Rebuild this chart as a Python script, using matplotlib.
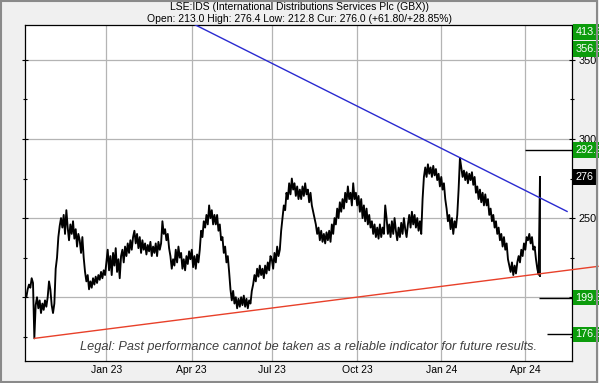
import numpy as np
import matplotlib.pyplot as plt
from matplotlib.patches import Rectangle
import matplotlib.transforms as mtransforms

plt.rcParams['font.family'] = ['Liberation Sans', 'DejaVu Sans']

# ---- daily closes (GBX), one list per month, Oct 2022 .. Apr 2024 ----
oct22 = [203, 200, 205, 208, 206, 212, 209, 174, 195, 200, 193, 198, 190, 196, 192, 198, 194, 200, 210]
nov22 = [205, 195, 190, 196, 218, 225, 238, 245, 250, 244, 252, 240, 255, 244, 236, 246, 240, 248, 237, 243, 232, 240]
dec22 = [236, 228, 238, 225, 216, 210, 214, 205, 210, 206, 212, 208, 213, 209, 214, 211, 216, 212, 217, 214]
jan23 = [222, 230, 217, 226, 214, 228, 220, 231, 216, 224, 212, 226, 230, 222, 232, 226, 234, 228, 236, 230, 238]
feb23 = [242, 234, 240, 231, 238, 228, 236, 230, 234, 227, 233, 229, 235, 226, 232, 228, 234, 226, 235, 230]
mar23 = [234, 248, 240, 243, 236, 240, 231, 226, 218, 224, 220, 230, 222, 232, 225, 228, 218, 224, 217, 226, 221, 229, 224]
apr23 = [230, 219, 226, 218, 227, 222, 230, 242, 238, 248, 244, 252, 246, 258, 250, 255, 246, 252]
may23 = [246, 252, 242, 246, 236, 238, 228, 232, 222, 226, 216, 205, 198, 204, 196, 200, 193, 199, 194, 200]
jun23 = [195, 201, 194, 199, 193, 198, 196, 204, 208, 214, 210, 218, 213, 220, 214, 218, 212, 220, 215, 222, 217, 226]
jul23 = [224, 218, 228, 222, 232, 226, 230, 242, 250, 258, 255, 266, 262, 272, 265, 275, 268, 272, 264, 270, 262]
aug23 = [268, 262, 270, 264, 272, 265, 268, 260, 266, 258, 254, 250, 246, 240, 244, 236, 242, 235, 240, 234, 241, 236]
sep23 = [242, 235, 246, 240, 250, 246, 256, 250, 260, 254, 262, 256, 266, 260, 270, 262, 266, 258, 272, 262, 266]
oct23 = [258, 264, 254, 262, 250, 258, 248, 256, 246, 252, 244, 248, 240, 246, 238, 244, 237, 246, 238, 244, 240, 258]
nov23 = [250, 240, 246, 238, 248, 240, 250, 242, 236, 244, 238, 247, 240, 250, 243, 238, 246, 252, 244, 254, 246, 252]
dec23 = [244, 250, 242, 248, 240, 262, 276, 282, 276, 284, 278, 282, 276, 283, 277, 281, 274, 278, 270]
jan24 = [276, 268, 272, 262, 256, 248, 252, 243, 250, 240, 248, 244, 252, 268, 288, 282, 276, 280, 274, 279, 272, 278]
feb24 = [274, 279, 271, 276, 266, 270, 262, 268, 260, 266, 258, 265, 258, 262, 252, 256, 248, 252, 244, 248, 240]
mar24 = [244, 236, 240, 232, 238, 230, 234, 224, 220, 216, 222, 214, 220, 215, 222, 226, 222, 230, 226, 234]
apr24 = [230, 238, 236, 240, 234, 238, 230, 232, 224, 218, 214.2, 276.0]

months = [oct22, nov22, dec22, jan23, feb23, mar23, apr23, may23, jun23, jul23,
          aug23, sep23, oct23, nov23, dec23, jan24, feb24, mar24, apr24]
month_labels = ['Oct 22', 'Nov 22', 'Dec 22', 'Jan 23', 'Feb 23', 'Mar 23', 'Apr 23',
                'May 23', 'Jun 23', 'Jul 23', 'Aug 23', 'Sep 23', 'Oct 23', 'Nov 23',
                'Dec 23', 'Jan 24', 'Feb 24', 'Mar 24', 'Apr 24']
tick_labels = ['Jan 23', 'Apr 23', 'Jul 23', 'Oct 23', 'Jan 24', 'Apr 24']

# last session bar
last_low, last_high = 212.8, 276.4

# trend lines (trading-day index, price)
red_x, red_y = [7, 429.5], [174.0, 219.5]
blue_x, blue_y = [120, 406.3], [375.3, 254.2]

# target levels on the right
levels = [413.6, 356.9, 292.9, 199.8, 176.5]
level_text = ['413.6', '356.9', '292.9', '199.8', '176.5']
level_line_from = [None, None, 375, 385, 391.5]
current = 276.0

close = np.concatenate([np.array(m, dtype=float) for m in months])
x = np.arange(len(close))
starts = np.cumsum([0] + [len(m) for m in months])[:-1]
tick_pos = [starts[month_labels.index(t)] for t in tick_labels]

fig = plt.figure(figsize=(5.99, 3.83), dpi=100, facecolor='#f0f0f0')
ax = fig.add_axes([25 / 599, 1 - 361 / 383, 547 / 599, 336 / 383])
ax.set_facecolor('white')

ymin, ymax = 159.7, 372.0
ax.set_xlim(0, 410)
ax.set_ylim(ymin, ymax)

# grid
ax.set_xticks(tick_pos)
ax.set_xticklabels(tick_labels, fontsize=7.5)
ax.set_yticks([200, 250, 300, 350])
ax.set_yticklabels(['', '250', '300', '350'])
ax.set_yticks([175, 225, 275, 325], minor=True)
ax.grid(True, which='major', color='#b4b4b4', lw=0.9)
ax.tick_params(axis='x', length=0, pad=3)
ax.tick_params(axis='y', which='major', left=True, right=True, labelleft=False,
               labelright=True, direction='inout', length=5, width=0.8,
               labelsize=7.8, pad=2)
ax.tick_params(axis='y', which='minor', left=True, right=True, direction='inout',
               length=3, width=0.8)
for s in ax.spines.values():
    s.set_color('black')
    s.set_linewidth(0.9)

# price
ax.plot(x, close, color='black', lw=1.35, zorder=3)
ax.vlines(x[-1], last_low, last_high, color='black', lw=1.3, zorder=3)

# trend lines
ax.plot(red_x, red_y, color='#e8402a', lw=1.0, clip_on=False, zorder=4)
ax.plot(blue_x, blue_y, color='#2a2ad0', lw=1.0, zorder=4)

# target levels
trans = mtransforms.blended_transform_factory(ax.transAxes, ax.transData)
for lv, txt, x0 in zip(levels, level_text, level_line_from):
    yv = min(lv, ymax - 4.5)
    if x0 is not None:
        ax.hlines(lv, x0, 410, color='black', lw=1.0, zorder=4)
    ax.text(1.006, yv, txt, transform=trans, color='white', fontsize=7.8,
            va='center', ha='left', clip_on=False, zorder=6,
            bbox=dict(boxstyle='square,pad=0.25', fc='#0c9c0c', ec='none'))
ax.text(1.006, current, '276', transform=trans, color='white', fontsize=7.8,
        va='center', ha='left', clip_on=False, zorder=6,
        bbox=dict(boxstyle='square,pad=0.25', fc='black', ec='none'))

# titles
fig.text(0.5, 1 - 6.5 / 383, 'LSE:IDS (International Distributions Services Plc (GBX))',
         ha='center', va='center', fontsize=7.5)
fig.text(0.5, 1 - 19 / 383, 'Open: 213.0 High: 276.4 Low: 212.8 Cur: 276.0 (+61.80/+28.85%)',
         ha='center', va='center', fontsize=7.5)
fig.text(308 / 599, 1 - 347 / 383,
         'Legal: Past performance cannot be taken as a reliable indicator for future results.',
         ha='center', va='center', fontsize=9.2, style='italic', color='#404040')

# outer border
fig.patches.append(Rectangle((0.001, 0.002), 0.996, 0.996, transform=fig.transFigure,
                             fill=False, ec='#8a8a8a', lw=1.5, zorder=10))

fig.savefig('out.png', dpi=100, facecolor=fig.get_facecolor())
